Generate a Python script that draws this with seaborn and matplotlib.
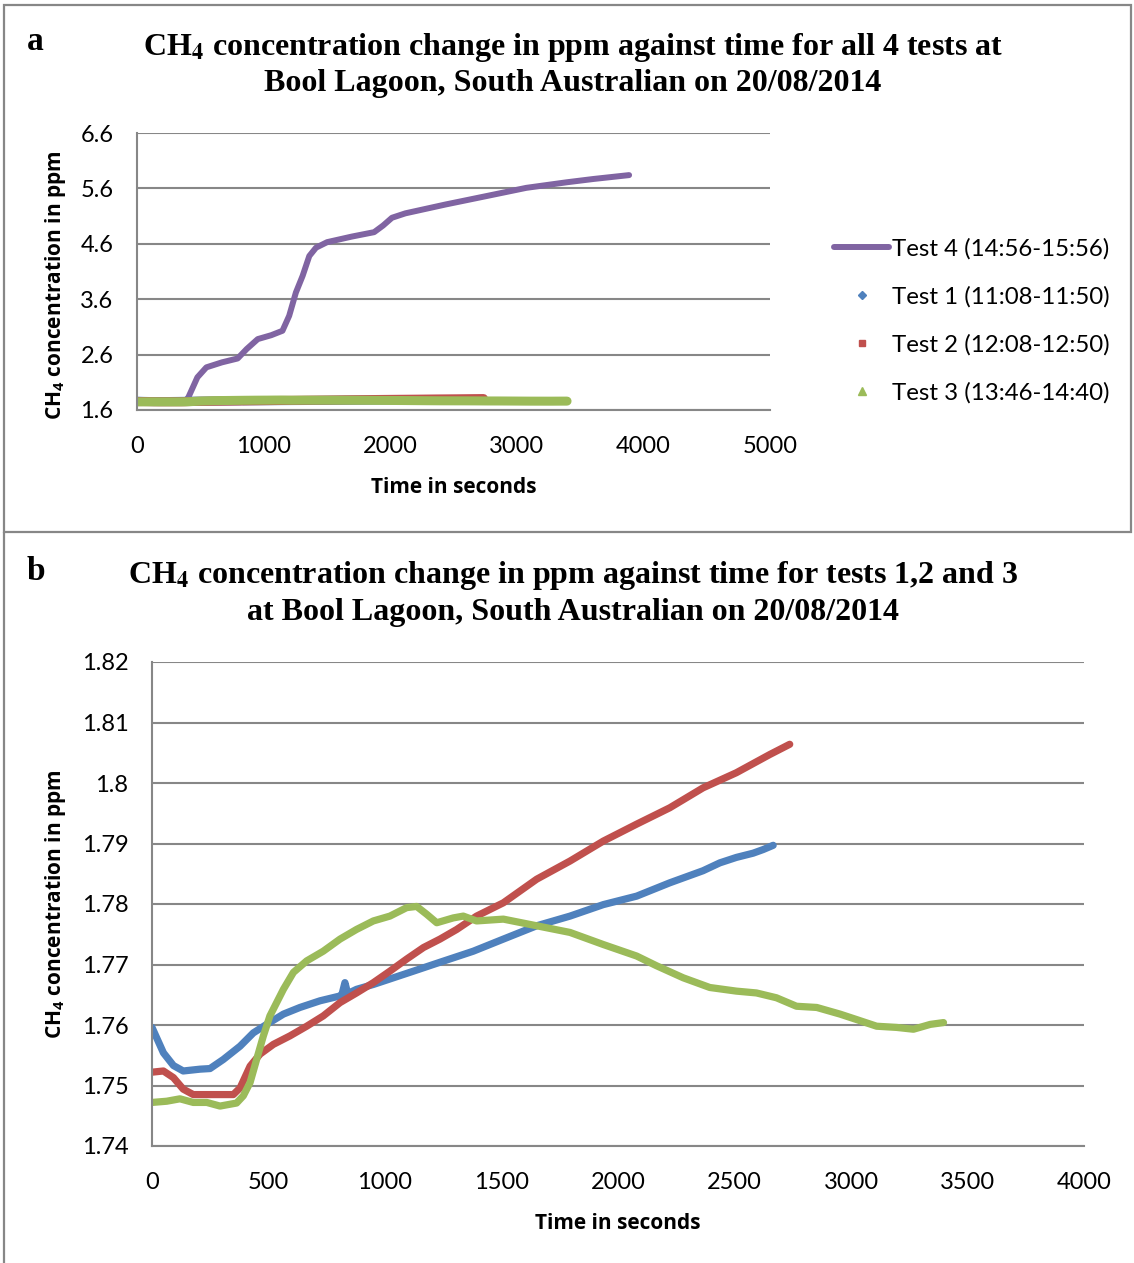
import numpy as np
import pandas as pd
import matplotlib
matplotlib.use("Agg")
import matplotlib.pyplot as plt
import matplotlib.ticker as mticker
from matplotlib.lines import Line2D
import seaborn as sns

# readings taken off the original chart (time in s, CH4 in ppm)
t1 = [0, 49, 92, 134, 206, 249, 306, 378, 435, 492, 564, 635, 721, 807, 815, 828, 840,
      878, 950, 1036, 1122, 1207, 1293, 1379, 1508, 1651, 1794, 1937, 2080, 2222, 2365,
      2437, 2508, 2580, 2623, 2666]
v1 = [1.7596, 1.7554, 1.7533, 1.7524, 1.7527, 1.7528, 1.7543, 1.7565, 1.7587, 1.7601,
      1.7618, 1.7629, 1.7640, 1.7648, 1.7650, 1.7670, 1.7652, 1.7659, 1.7667, 1.7678,
      1.7689, 1.7700, 1.7711, 1.7722, 1.7742, 1.7764, 1.7780, 1.7799, 1.7813, 1.7835,
      1.7855, 1.7868, 1.7877, 1.7884, 1.7890, 1.7897]

t2 = [0, 49, 92, 134, 177, 235, 292, 349, 378, 421, 464, 521, 592, 664, 735, 807, 878,
      950, 1021, 1093, 1165, 1236, 1308, 1393, 1508, 1651, 1794, 1937, 2080, 2222, 2365,
      2508, 2651, 2737]
v2 = [1.7522, 1.7524, 1.7513, 1.7494, 1.7485, 1.7485, 1.7485, 1.7485, 1.7496, 1.7532,
      1.7552, 1.7568, 1.7582, 1.7598, 1.7615, 1.7637, 1.7653, 1.7670, 1.7689, 1.7709,
      1.7728, 1.7742, 1.7758, 1.7780, 1.7802, 1.7841, 1.7871, 1.7904, 1.7932, 1.7959,
      1.7992, 1.8017, 1.8047, 1.8064]

t3 = [0, 63, 120, 177, 235, 292, 363, 392, 421, 449, 478, 506, 535, 564, 607, 664, 735,
      807, 878, 950, 1021, 1093, 1136, 1179, 1222, 1293, 1336, 1393, 1508, 1651, 1794,
      1937, 2080, 2165, 2280, 2394, 2508, 2594, 2680, 2766, 2853, 2953, 3024, 3110, 3196,
      3268, 3340, 3397]
v3 = [1.7472, 1.7474, 1.7478, 1.7472, 1.7472, 1.7466, 1.7471, 1.7483, 1.7505, 1.7543,
      1.7582, 1.7615, 1.7637, 1.7659, 1.7687, 1.7706, 1.7722, 1.7742, 1.7758, 1.7772,
      1.7780, 1.7794, 1.7796, 1.7783, 1.7769, 1.7777, 1.7780, 1.7772, 1.7775, 1.7764,
      1.7753, 1.7733, 1.7714, 1.7698, 1.7678, 1.7662, 1.7656, 1.7653, 1.7645, 1.7631,
      1.7629, 1.7618, 1.7609, 1.7598, 1.7596, 1.7593, 1.7601, 1.7604]

t4 = [0, 200, 380, 406, 477, 548, 671, 795, 866, 954, 1060, 1149, 1202, 1255, 1308, 1361,
      1414, 1502, 1696, 1873, 1944, 2014, 2120, 2438, 2757, 3075, 3393, 3605, 3887]
v4 = [1.75, 1.75, 1.76, 1.83, 2.19, 2.37, 2.46, 2.53, 2.70, 2.88, 2.95, 3.03, 3.30, 3.72,
      4.02, 4.38, 4.53, 4.63, 4.73, 4.81, 4.93, 5.07, 5.15, 5.31, 5.46, 5.61, 5.71, 5.77,
      5.84]

labels = ["Test 1 (11:08-11:50)", "Test 2 (12:08-12:50)",
          "Test 3 (13:46-14:40)", "Test 4 (14:56-15:56)"]
colors = ["#4F81BD", "#C0504D", "#9BBB59", "#8064A2"]

d1 = pd.DataFrame({"time": t1, "ch4": v1})
d2 = pd.DataFrame({"time": t2, "ch4": v2})
d3 = pd.DataFrame({"time": t3, "ch4": v3})
d4 = pd.DataFrame({"time": t4, "ch4": v4})

sns.set_theme(style="white")
plt.rcParams["font.family"] = ["Lato", "DejaVu Sans"]
plt.rcParams["text.color"] = "black"
plt.rcParams["axes.labelcolor"] = "black"
plt.rcParams["mathtext.fontset"] = "custom"
plt.rcParams["mathtext.rm"] = "Open Sans"
plt.rcParams["mathtext.bf"] = "Open Sans:bold"

grey = "#878787"
fig = plt.figure(figsize=(11.34, 12.63), dpi=100)

# panel frames
fig.add_artist(plt.Rectangle((4 / 1134, 1 - 532 / 1263), 1127 / 1134, 527 / 1263,
                             transform=fig.transFigure, fill=False, ec=grey, lw=1.6))
fig.add_artist(Line2D([4 / 1134, 4 / 1134], [0, 1 - 532 / 1263],
                      transform=fig.transFigure, color=grey, lw=1.6))

title_kw = dict(family="Liberation Serif", weight="bold", fontsize=23, color="black",
                math_fontfamily="stix", ha="center", va="center")
fig.text(35 / 1134, 1 - 42 / 1263, "a", **{**title_kw, "fontsize": 24})
fig.text(573 / 1134, 1 - 47 / 1263,
         r"CH$_\mathbf{4}$ concentration change in ppm against time for all 4 tests at", **title_kw)
fig.text(573 / 1134, 1 - 83 / 1263, "Bool Lagoon, South Australian on 20/08/2014", **title_kw)
fig.text(36 / 1134, 1 - 572 / 1263, "b", **{**title_kw, "fontsize": 24})
fig.text(573 / 1134, 1 - 576 / 1263,
         r"CH$_\mathbf{4}$ concentration change in ppm against time for tests 1,2 and 3", **title_kw)
fig.text(573 / 1134, 1 - 612 / 1263, "at Bool Lagoon, South Australian on 20/08/2014", **title_kw)

label_kw = dict(family="Open Sans", weight="bold", fontsize=15, color="black")


def style_axes(ax):
    ax.grid(True, axis="y", color=grey, lw=1.5)
    ax.grid(False, axis="x")
    for s in ["top", "right"]:
        ax.spines[s].set_visible(False)
    for s in ["left", "bottom"]:
        ax.spines[s].set_color(grey)
        ax.spines[s].set_linewidth(1.5)
    ax.tick_params(axis="both", labelsize=17, colors="black", length=0)
    ax.tick_params(axis="y", pad=17)
    ax.tick_params(axis="x", pad=19)
    ax.set_xlabel("Time in seconds", labelpad=14, **label_kw)
    ax.yaxis.set_major_formatter(mticker.FormatStrFormatter("%g"))
    ax.set_axisbelow(True)


# panel a: all four tests
ax1 = fig.add_axes([137 / 1134, 1 - 410 / 1263, 633 / 1134, 277 / 1263])
sns.lineplot(data=d4, x="time", y="ch4", ax=ax1, color=colors[3], lw=4.3,
             solid_capstyle="round", solid_joinstyle="round")
for d, c in zip([d1, d2, d3], colors[:3]):
    sns.lineplot(data=d, x="time", y="ch4", ax=ax1, color=c, lw=6.5,
                 solid_capstyle="round")
ax1.set_xlim(0, 5000)
ax1.set_ylim(1.6, 6.6)
ax1.set_xticks(np.arange(0, 5001, 1000))
ax1.set_yticks(np.arange(1.6, 6.61, 1.0))
style_axes(ax1)
ax1.set_ylabel(r"CH$_\mathbf{4}$ concentration in ppm", **label_kw)
ax1.yaxis.set_label_coords(-69 / 633, 0.45)

handles = [Line2D([], [], color=colors[3], lw=4.3, solid_capstyle="round"),
           Line2D([], [], color=colors[0], marker="D", ls="none", ms=4.5),
           Line2D([], [], color=colors[1], marker="s", ls="none", ms=5),
           Line2D([], [], color=colors[2], marker="^", ls="none", ms=5.5)]
fig.legend(handles, [labels[3], labels[0], labels[1], labels[2]],
           loc="upper left", bbox_to_anchor=(834 / 1134, 1 - 238 / 1263),
           frameon=False, fontsize=17.3, handlelength=2.3, handletextpad=0.12,
           labelspacing=1.1, borderaxespad=0, borderpad=0)

# panel b: tests 1-3 only
ax2 = fig.add_axes([152 / 1134, 1 - 1146 / 1263, 932 / 1134, 484 / 1263])
for d, c in zip([d1, d2, d3], colors[:3]):
    sns.lineplot(data=d, x="time", y="ch4", ax=ax2, color=c, lw=5.2,
                 solid_capstyle="round", solid_joinstyle="round")
ax2.set_xlim(0, 4000)
ax2.set_ylim(1.74, 1.82)
ax2.set_xticks(np.arange(0, 4001, 500))
ax2.set_yticks(np.round(np.arange(1.74, 1.8201, 0.01), 2))
style_axes(ax2)
ax2.set_ylabel(r"CH$_\mathbf{4}$ concentration in ppm", **label_kw)
ax2.yaxis.set_label_coords(-84 / 932, 0.5)

fig.savefig("out.png", dpi=100)
